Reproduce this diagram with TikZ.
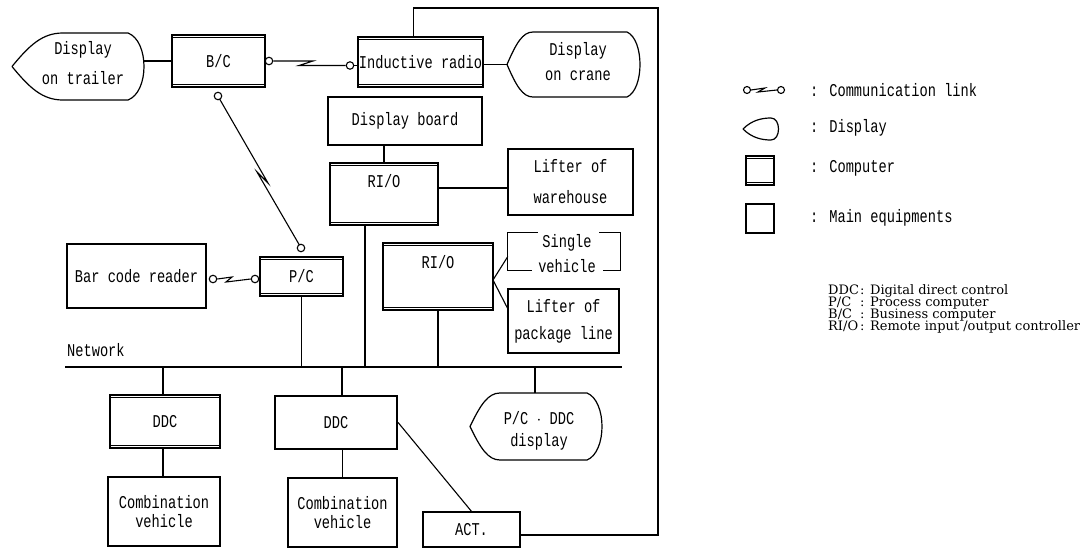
\documentclass[tikz,border=0pt]{standalone}
\usepackage{fontspec}
\newfontfamily\tw[FakeStretch=0.76]{Liberation Mono}
\newfontfamily\sr{DejaVu Serif}
\usetikzlibrary{calc}
\newcommand\cmpt[1]{\draw[line width=1.2pt] ([yshift=-3pt]#1.north west) -- ([yshift=-3pt]#1.north east) ([yshift=3pt]#1.south west) -- ([yshift=3pt]#1.south east);}
\newcommand\dispath[6]{%
 \pgfmathsetmacro\dYm{(#2+#3)/2}%
 \pgfmathsetmacro\dA{#1+0.35*(#4-#1)}%
 \pgfmathsetmacro\dB{#2+0.35*(\dYm-#2)}%
 \pgfmathsetmacro\dC{#4-0.4*(#4-#1)}%
 \pgfmathsetmacro\dD{#3-0.35*(#3-\dYm)}%
 \pgfmathsetmacro\dX{#5+1.333*(#6-#5)}%
 \pgfmathsetmacro\dH{0.12*(#3-#2)}%
 \draw[line width=1.2pt] (#1,\dYm) .. controls (\dA,\dB) and (\dC,#2) .. (#4,#2) -- (#5,#2)
   .. controls (\dX,#2+\dH) and (\dX,#3-\dH) .. (#5,#3) -- (#4,#3)
   .. controls (\dC,#3) and (\dA,\dD) .. (#1,\dYm);}
\begin{document}
\begin{tikzpicture}[x=1pt,y=-1pt,
  every node/.style={font=\tw\fontsize{18}{19}\selectfont},
  box/.style={draw,line width=1.2pt,inner sep=0pt,align=center},
  conn/.style={line width=1.1pt},
  cc/.style={circle,draw,line width=1.1pt,inner sep=0pt,minimum size=7.5pt},
  txt/.style={inner sep=0pt,align=center},
  sertxt/.style={inner sep=0pt,anchor=base west,font=\sr\fontsize{13}{14}\selectfont}
 ]
\useasboundingbox (0,0) rectangle (1092,549);

% displays
\dispath{12}{33}{100}{63}{128}{144}
\node[txt] (trailer) at (83,63) {Display\\[11pt]on trailer};
\coordinate (trR) at (144,61);
\dispath{507}{32}{97}{533}{627}{640}
\node[txt] (crane) at (578,62) {Display\\[6pt]on crane};
\coordinate (crL) at (507,64.5);
\dispath{470}{393}{460}{500}{587}{602}
\node[txt] (pcddc) at (539,431) {P/C $\cdot$ DDC\\[3pt]display};
\coordinate (pdT) at (535,393);

% boxes
\node[box,minimum width=93pt,minimum height=52pt] (BC) at (218.5,61) {B/C};
\node[box,minimum width=125pt,minimum height=50pt] (IR) at (420.5,62) {Inductive radio};
\node[box,minimum width=154pt,minimum height=48pt] (DB) at (405,121) {Display board};
\node[box,minimum width=108pt,minimum height=62pt] (RIO1) at (384,194) {};
\node[txt] (rio1t) at (384,181) {RI/O};
\node[box,minimum width=125pt,minimum height=66pt] (LW) at (570.5,182) {Lifter of\\[12pt]warehouse};
\node[box,minimum width=110pt,minimum height=67pt] (RIO2) at (438,276.5) {};
\node[txt] (rio2t) at (438,262) {RI/O};
\node[minimum width=112pt,minimum height=37pt,inner sep=0pt] (SV) at (564,251.5) {};
\node[txt] (svt) at (567,254) {Single\\[6pt]vehicle};
\node[box,minimum width=111pt,minimum height=64pt] (LP) at (563.5,321) {Lifter of\\[8pt]package line};
\node[box,minimum width=139pt,minimum height=64pt] (BCR) at (136.5,276) {Bar code reader};
\node[box,minimum width=83pt,minimum height=39pt] (PC) at (301.5,276.5) {P/C};
\node[box,minimum width=110pt,minimum height=53pt] (DDC1) at (165,421.5) {DDC};
\node[box,line width=2.2pt,minimum width=122pt,minimum height=53pt] (DDC2) at (336,422.5) {DDC};
\node[box,minimum width=112pt,minimum height=69pt] (CV1) at (164,511.5) {Combination\\vehicle};
\node[box,minimum width=109pt,minimum height=69pt] (CV2) at (342.5,512.5) {Combination\\vehicle};
\node[box,minimum width=97pt,minimum height=35pt] (ACT) at (471.5,529.5) {ACT.};
\cmpt{BC}\cmpt{IR}\cmpt{RIO1}\cmpt{RIO2}\cmpt{PC}\cmpt{DDC1}

% single vehicle bracket box
\draw[line width=1.2pt] ([xshift=30pt]SV.north west) -- (SV.north west) -- (SV.south west) -- ([xshift=24pt]SV.south west)
  ([xshift=-21pt]SV.north east) -- (SV.north east) -- (SV.south east) -- ([xshift=-17pt]SV.south east);

% network
\coordinate (netL) at (65,367);
\coordinate (netR) at (622,367);
\draw[conn] (netL) -- (netR);
\node[txt,anchor=west] (netlab) at (67,350) {Network};

% comm link circles
\node[cc] (c1) at (269,61) {};
\node[cc] (c2) at (350,65.5) {};
\node[cc] (c3) at (218,96) {};
\node[cc] (c4) at (301,248) {};
\node[cc] (c5) at (213,279) {};
\node[cc] (c6) at (255,279) {};
\draw[conn] (c1.east) -- (313,61) -- (299,65.5) -- (c2.west);
\draw[conn] (c2.east) -- (IR.west |- c2);
\draw[conn] (c3) ++(1.6,3) -- (268,183) -- (257,172) -- ($(c4)+(-1.6,-3)$);
\draw[conn] (c5.east) -- (232,277) -- (226,282) -- (c6.west);
\draw[conn] (c6.east) -- (PC.west |- c6);

% connectors
\draw[conn] (trR) -- (BC.west);
\draw[conn] (IR.east |- crL) -- (crL);
\coordinate (tr) at (658,8);
\coordinate (br) at (658,535);
\draw[conn] ([xshift=-7pt]IR.north) |- (tr) -- (br) -- (br -| ACT.east);
\draw[conn] (RIO1.north) -- (RIO1.north |- DB.south);
\draw[conn] ([yshift=6pt]RIO1.east) -- ([yshift=6pt]RIO1.east -| LW.west);
\coordinate (d1) at (365,367);
\draw[conn] (RIO1.south -| d1) -- (d1);
\draw[conn] (RIO2.south) -- (RIO2.south |- netL);
\coordinate (r2e) at (493,280);
\draw[conn] ([yshift=-5pt]SV.west) -- (r2e) -- ([yshift=13pt]LP.west);
\draw[conn] (PC.south) -- (PC.south |- netL);
\draw[conn] ([xshift=-2pt]DDC1.north) -- ([xshift=-2pt]DDC1.north |- netL);
\draw[conn] ([xshift=-2pt]DDC1.south) -- ([xshift=-2pt]DDC1.south |- CV1.north);
\draw[conn] ([xshift=6pt]DDC2.north) -- ([xshift=6pt]DDC2.north |- netL);
\draw[conn] (CV2.north) -- (CV2.north |- DDC2.south);
\draw[conn] (DDC2.east) -- (ACT.north);
\draw[conn] (pdT) -- (pdT |- netL);

% legend
\node[cc,minimum size=7pt] (l1) at (747,90) {};
\node[cc,minimum size=7pt] (l2) at (781,90) {};
\draw[conn] (l1.east) -- (765,88) -- (758,92) -- (l2.west);
\node[txt,anchor=west] (lt1) at (810,90) {: Communication link};
\draw[line width=1.2pt] (743,129) .. controls (752,120) and (762,118) .. (771,118)
  .. controls (781,118) and (781,140) .. (771,140) .. controls (762,140) and (752,138) .. (743,129);
\node[txt,anchor=west] (lt2) at (810,128) {: Display};
\node[box,minimum width=28pt,minimum height=29pt] (lcmp) at (760,170.5) {};
\cmpt{lcmp}
\node[txt,anchor=west] (lt3) at (810,168) {: Computer};
\node[box,minimum width=28pt,minimum height=29pt] (lmain) at (760,218.5) {};
\node[txt,anchor=west] (lt4) at (810,218) {: Main equipments};

\node[sertxt] (a1) at (828,294) {DDC};
\node[sertxt] (b1) at (860,294) {: Digital direct control};
\node[sertxt] (a2) at (828,306) {P/C};
\node[sertxt] (b2) at (860,306) {: Process computer};
\node[sertxt] (a3) at (828,318) {B/C};
\node[sertxt] (b3) at (860,318) {: Business computer};
\node[sertxt] (a4) at (828,330) {RI/O};
\node[sertxt] (b4) at (860,330) {: Remote input /output controller};
\end{tikzpicture}
\end{document}
